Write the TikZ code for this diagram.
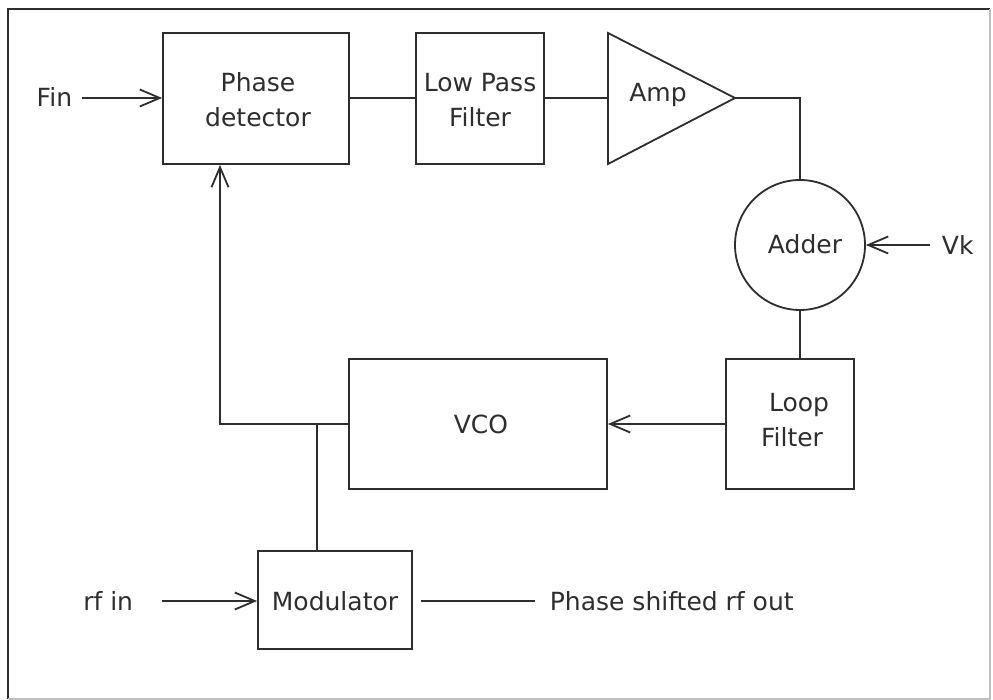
\documentclass[tikz,border=0pt]{standalone}
\usepackage{fontspec}
\setmainfont{DejaVu Sans}
\usetikzlibrary{arrows.meta,calc}
\definecolor{ink}{HTML}{2E2E2E}
\begin{document}
\begin{tikzpicture}[x=1pt,y=-1pt,
  line width=1.8pt, draw=ink,
  box/.style={draw=ink, line width=1.8pt, rectangle, inner sep=0pt},
  lbl/.style={text=ink, font=\fontsize{25}{35}\selectfont, inner sep=0pt, align=center},
  arr/.style={-{Straight Barb[length=20pt,width=17pt,line width=1.8pt]}},
  wire/.style={draw=ink, line width=1.8pt}]
\useasboundingbox (0,0) rectangle (993,700);
\fill[white] (0,0) rectangle (993,700);
% frame
\draw[ink, line width=2pt] (8,699) -- (8,9) -- (990,9);
\draw[black!25, line width=1.5pt] (990,9) -- (990,699) -- (8,699);
% blocks
\node[box, minimum width=186pt, minimum height=131pt] (pd) at (256,98.5) {};
\node[lbl] (pdt) at (258,100) {Phase\\detector};
\node[box, minimum width=128pt, minimum height=131pt] (lpf) at (480,98.5) {};
\node[lbl] (lpft) at (480,100) {Low Pass\\Filter};
\coordinate (ampin) at (608,98);
\coordinate (ampout) at (735,98);
\draw[wire, line join=miter] (608,33) -- (ampout) -- (608,164) -- cycle;
\node[lbl] (ampt) at (658,95) {Amp};
\node[draw=ink, line width=1.8pt, circle, minimum size=130pt, inner sep=0pt] (add) at (800,245) {};
\node[lbl] (addt) at (805,244) {Adder};
\node[box, minimum width=128pt, minimum height=130pt] (lf) at (790,424) {};
\node[lbl] (lft) at (792,420) {\hspace*{14pt}Loop\\Filter};
\node[box, minimum width=258pt, minimum height=130pt] (vco) at (478,424) {};
\node[lbl] (vcot) at (481,424) {VCO};
\node[box, minimum width=154pt, minimum height=98pt] (mod) at (335,600) {};
\node[lbl] (modt) at (335,601) {Modulator};
% inputs / outputs
\node[lbl, anchor=east] (fin) at (73,97) {Fin};
\coordinate (finA) at (82,98);
\draw[wire, arr] (finA) -- (pd.west |- finA);
\draw[wire] (pd.east |- ampin) -- (lpf.west |- ampin);
\draw[wire] (lpf.east |- ampin) -- (ampin);
\draw[wire] (ampout) -| (add.north);
\node[lbl, anchor=west] (vk) at (941,245) {Vk};
\coordinate (vkA) at (930,245);
\draw[wire, arr] (vkA) -- (add.east);
\draw[wire] (add.south) -- (add.south |- lf.north);
\draw[wire, arr] (lf.west) -- (vco.east);
\coordinate (fb) at (220,424);
\draw[wire, arr] (vco.west) -- (fb) -- (fb |- pd.south);
\coordinate (jn) at (317,424);
\draw[wire] (jn) -- (jn |- mod.north);
\node[lbl, anchor=east] (rfin) at (134,601) {rf in};
\coordinate (rfA) at (162,601);
\draw[wire, arr] (rfA) -- (mod.west |- rfA);
\coordinate (outA) at (421,601);
\coordinate (outB) at (535,601);
\draw[wire] (outA) -- (outB);
\node[lbl, anchor=west] (outt) at (549,601) {Phase shifted rf out};
\end{tikzpicture}
\end{document}
